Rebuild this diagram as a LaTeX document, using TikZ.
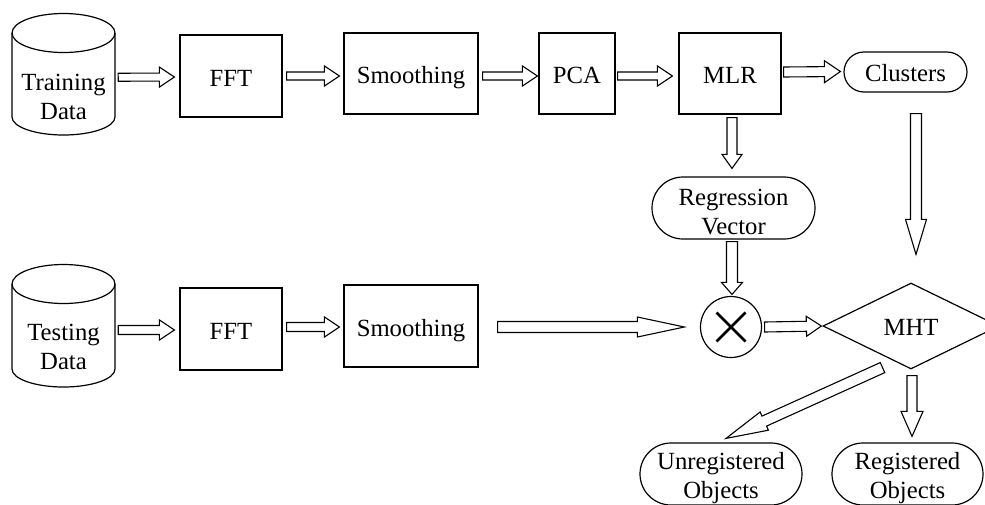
\documentclass[tikz,border=0pt]{standalone}
\usepackage{fontspec}
\setmainfont{Liberation Serif}
\usetikzlibrary{calc,shapes.geometric,shapes.misc}
\tikzset{
  ln/.style={line width=1.2pt},
  box/.style={draw, ln, rectangle, inner sep=0pt, align=center, text height=20.5pt, text depth=0pt},
  pill/.style={draw, ln, rounded rectangle, inner sep=0pt, align=center},
  blockarrow/.style={draw, line width=1.1pt, fill=white, line join=miter},
  txt/.style={inner sep=0pt, align=center},
  ghost/.style={inner sep=0pt, draw=none},
}
% #1 start, #2 end, #3 shaft half width, #4 head half width, #5 head length
\newcommand\barrow[5]{%
  \path #1 coordinate (ba-s);
  \path #2 coordinate (ba-e);
  \path ($(ba-e)!#5!(ba-s)$) coordinate (ba-h);
  \draw[blockarrow] ($(ba-s)!#3!90:(ba-e)$) -- ($(ba-h)!#3!90:(ba-e)$)
    -- ($(ba-h)!#4!90:(ba-e)$) -- (ba-e) -- ($(ba-h)!#4!-90:(ba-e)$)
    -- ($(ba-h)!#3!-90:(ba-e)$) -- ($(ba-s)!#3!-90:(ba-e)$) -- cycle;
}
\begin{document}
\begin{tikzpicture}[x=1pt,y=-1pt,font=\fontsize{24.7}{29}\selectfont]
\useasboundingbox (0,0) rectangle (985,504);
\clip (0,0) rectangle (985,504);

% ---- cylinders ----
\draw[ln] (12,33) -- (12,117) arc[start angle=180,end angle=360,x radius=51.5pt,y radius=18pt] -- (115,33);
\draw[ln] (63.5,33) ellipse[x radius=51.5pt, y radius=19.5pt];
\node[ghost, minimum width=103pt, minimum height=121.5pt] (train) at (63.5,74.25) {};
\node[txt] (train-t) at (63.5,96.5) {Training\\Data};

\draw[ln] (12,284) -- (12,369) arc[start angle=180,end angle=360,x radius=51.5pt,y radius=18pt] -- (115,284);
\draw[ln] (63.5,284) ellipse[x radius=51.5pt, y radius=19.5pt];
\node[ghost, minimum width=103pt, minimum height=122.5pt] (test) at (63.5,325.75) {};
\node[txt] (test-t) at (63.5,347) {Testing\\Data};

% ---- top row ----
\node[box, minimum width=102pt, minimum height=82pt] (fft1) at (231,76) {FFT};
\node[box, minimum width=134pt, minimum height=81pt] (smooth1) at (411,73.5) {Smoothing};
\node[box, minimum width=76pt, minimum height=81pt] (pca) at (577,73.5) {PCA};
\node[box, minimum width=102pt, minimum height=81pt] (mlr) at (730,73.5) {MLR};
\node[pill, minimum width=123pt, minimum height=40pt, text height=19pt, text depth=0pt] (clusters) at (905.5,72) {Clusters};
\node[pill, minimum width=163pt, minimum height=62pt] (regvec) at (733.5,208) {};
\node[txt] (regvec-t) at ([yshift=-4.5pt]regvec.center) {Regression\\Vector};

% ---- bottom row ----
\node[box, minimum width=102pt, minimum height=82pt] (fft2) at (231,329) {FFT};
\node[box, minimum width=134pt, minimum height=82pt] (smooth2) at (411,326) {Smoothing};
\node[draw, ln, circle, minimum size=61pt, inner sep=0pt] (xn) at (731,327) {};
\draw[line width=2.6pt] ([shift={(-14.5pt,14.5pt)}]xn.center) -- ([shift={(14.5pt,-14.5pt)}]xn.center);
\draw[line width=2.6pt] ([shift={(-14.5pt,-14.5pt)}]xn.center) -- ([shift={(14.5pt,14.5pt)}]xn.center);
\node[draw, ln, diamond, aspect=2.05, minimum width=176pt, minimum height=86pt, inner sep=0pt, text height=19pt, text depth=0pt] (mht) at (911,326) {MHT};
\node[pill, minimum width=162pt, minimum height=62pt] (unreg) at (721,474) {};
\node[txt] (unreg-t) at ([yshift=-3.8pt]unreg.center) {Unregistered\\Objects};
\node[pill, minimum width=151pt, minimum height=62pt] (reg) at (907.5,474) {};
\node[txt] (reg-t) at ([yshift=-3.8pt]reg.center) {Registered\\Objects};

% ---- block arrows ----
\barrow{([shift={(3pt,-3pt)}]train.east)}{([shift={(-5pt,-1pt)}]fft1.west)}{4pt}{10pt}{15pt}
\barrow{([xshift=4pt]fft1.east)}{([shift={(-4pt,-2.5pt)}]smooth1.west)}{4pt}{10pt}{15pt}
\barrow{([shift={(4pt,-2.5pt)}]smooth1.east)}{([shift={(-1pt,-2.5pt)}]pca.west)}{4pt}{10pt}{15pt}
\barrow{([shift={(2pt,-2.5pt)}]pca.east)}{([shift={(-6pt,-2.5pt)}]mlr.west)}{4pt}{10pt}{15pt}
\barrow{([shift={(2pt,1.5pt)}]mlr.east)}{([shift={(-3pt,0.5pt)}]clusters.west)}{5pt}{11pt}{16pt}
\barrow{([shift={(2pt,-3pt)}]mlr.south)}{([shift={(-1.5pt,8pt)}]regvec.north)}{5pt}{10pt}{14pt}
\barrow{([shift={(-1.5pt,-2pt)}]regvec.south)}{([shift={(1pt,1.5pt)}]xn.north)}{5.5pt}{10.5pt}{12pt}
\barrow{([shift={(10.5pt,-21pt)}]clusters.south)}{([shift={(5pt,28pt)}]mht.north)}{5.5pt}{10.5pt}{35pt}

\barrow{([shift={(3pt,-4.25pt)}]test.east)}{([shift={(-5pt,-1pt)}]fft2.west)}{4.5pt}{10pt}{15pt}
\barrow{([shift={(4pt,2pt)}]fft2.east)}{([shift={(-4pt,-1pt)}]smooth2.west)}{4.5pt}{10pt}{15pt}
\barrow{([shift={(19pt,-1pt)}]smooth2.east)}{([shift={(-15.5pt,0pt)}]xn.west)}{5.5pt}{10pt}{47pt}
\barrow{([xshift=2.5pt]xn.east)}{([xshift=-1pt]mht.west)}{5pt}{10pt}{15pt}
\barrow{([shift={(1pt,-6pt)}]mht.south)}{([shift={(4.5pt,6pt)}]reg.north)}{5pt}{11pt}{25pt}
\barrow{([shift={(-28.5pt,2pt)}]mht.south)}{([shift={(5pt,4pt)}]unreg.north)}{5.5pt}{10pt}{42pt}
\end{tikzpicture}
\end{document}
